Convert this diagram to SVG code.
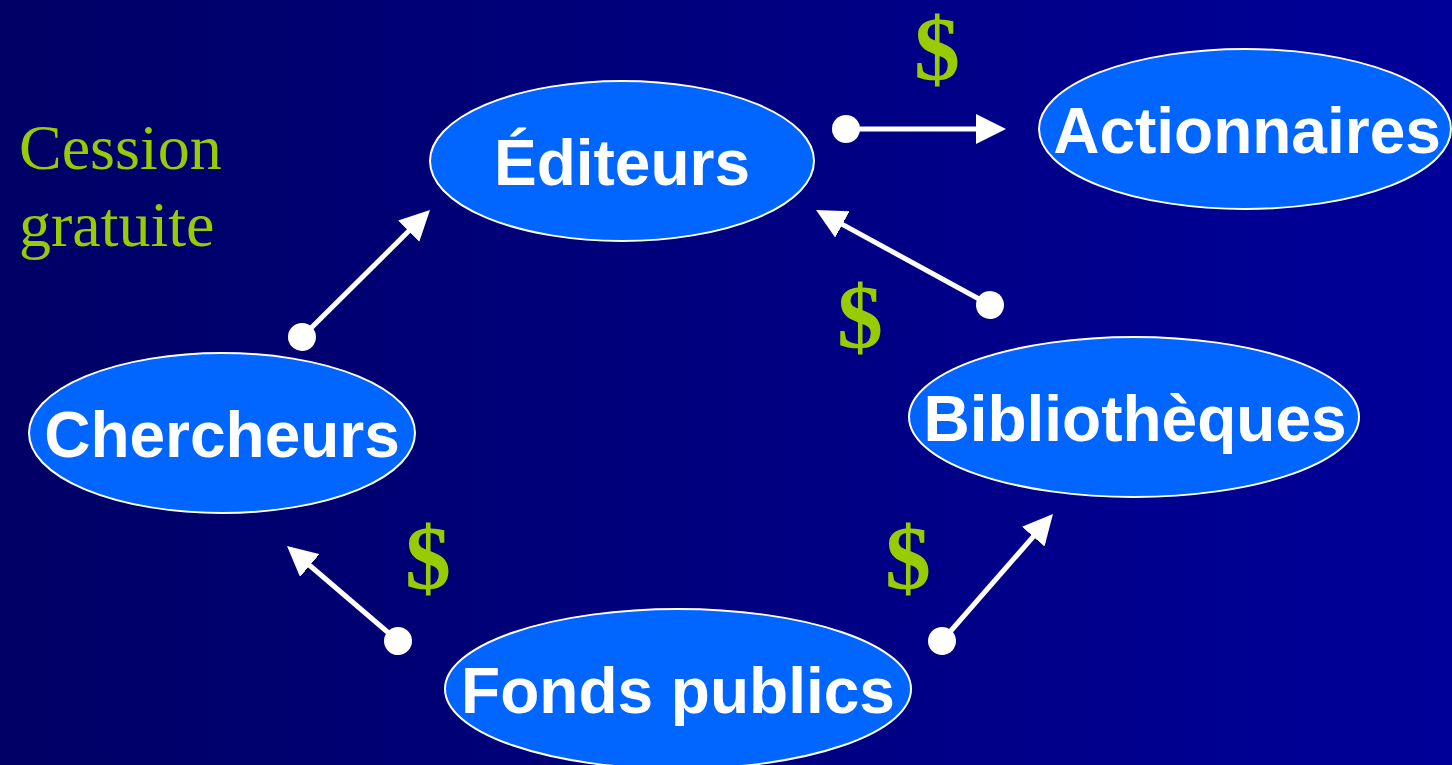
<svg xmlns="http://www.w3.org/2000/svg" width="1452" height="765" viewBox="0 0 1452 765">
<defs>
<linearGradient id="bg" x1="0" y1="0" x2="1" y2="0">
<stop offset="0" stop-color="#000066"/>
<stop offset="1" stop-color="#000099"/>
</linearGradient>
<marker id="head" markerUnits="userSpaceOnUse" markerWidth="30" markerHeight="30" viewBox="0 0 30 30" refX="10" refY="15" orient="auto">
<path d="M0,0 L30,15 L0,30 z" fill="#ffffff"/>
</marker>
<marker id="dot" markerUnits="userSpaceOnUse" markerWidth="30" markerHeight="30" viewBox="0 0 30 30" refX="15" refY="15" orient="auto">
<circle cx="15" cy="15" r="14" fill="#ffffff"/>
</marker>
</defs>
<style>
.node ellipse{fill:#0066ff;stroke:#ffffff;stroke-width:2}
.node text{font-family:"Liberation Sans",Arial,sans-serif;font-weight:bold;font-size:64px;fill:#ffffff;text-anchor:middle}
.conn line{stroke:#ffffff;stroke-width:5;marker-start:url(#dot);marker-end:url(#head)}
.money{font-family:"Liberation Serif","Times New Roman",serif;font-weight:bold;font-size:92px;fill:#99cc00;text-anchor:middle}
.note{font-family:"Liberation Serif","Times New Roman",serif;font-size:64px;fill:#99cc00}
</style>
<rect x="0" y="0" width="1452" height="765" fill="url(#bg)"/>
<g id="connectors" class="conn">
<line x1="846" y1="129" x2="986" y2="129"/>
<line x1="302" y1="337" x2="415.8" y2="224.1"/>
<line x1="990" y1="305" x2="833.6" y2="219.6"/>
<line x1="398" y1="641" x2="302.2" y2="559"/>
<line x1="942" y1="641" x2="1039.8" y2="529.1"/>
</g>
<g id="editeurs" class="node">
<ellipse cx="622" cy="161" rx="192" ry="80"/>
<text x="622" y="185">Éditeurs</text>
</g>
<g id="actionnaires" class="node">
<ellipse cx="1245" cy="129" rx="206" ry="80"/>
<text x="1247" y="153">Actionnaires</text>
</g>
<g id="chercheurs" class="node">
<ellipse cx="222" cy="433" rx="193" ry="80"/>
<text x="222" y="457">Chercheurs</text>
</g>
<g id="bibliotheques" class="node">
<ellipse cx="1134" cy="417" rx="225" ry="80"/>
<text x="1135" y="441">Bibliothèques</text>
</g>
<g id="fonds" class="node">
<ellipse cx="678" cy="689" rx="233" ry="80"/>
<text x="678" y="713">Fonds publics</text>
</g>
<g id="labels">
<text class="note" x="19" y="169">Cession</text>
<text class="note" x="19" y="246">gratuite</text>
<text class="money" x="937" y="80">$</text>
<text class="money" x="860" y="348">$</text>
<text class="money" x="428" y="589">$</text>
<text class="money" x="908" y="589">$</text>
</g>
</svg>
